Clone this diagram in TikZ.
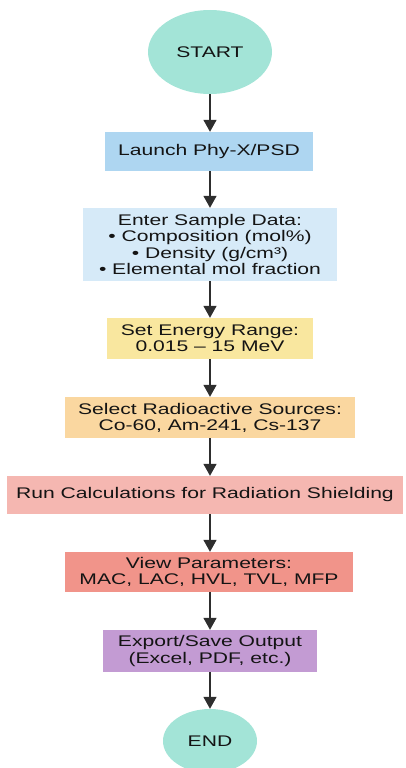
\documentclass[tikz,border=0pt]{standalone}
\usepackage{fontspec}
\setmainfont[FakeStretch=1.37]{Liberation Sans}
\usetikzlibrary{shapes.geometric,arrows.meta}
\definecolor{cterm}{HTML}{A3E4D7}
\definecolor{claunch}{HTML}{AED6F1}
\definecolor{center}{HTML}{D6EAF8}
\definecolor{cenergy}{HTML}{F9E79F}
\definecolor{cselect}{HTML}{FAD7A0}
\definecolor{crun}{HTML}{F5B7B1}
\definecolor{cview}{HTML}{F1948A}
\definecolor{cexport}{HTML}{C39BD3}
\definecolor{ctext}{HTML}{141414}
\definecolor{carrow}{HTML}{2E2E2E}
\begin{document}
\begin{tikzpicture}[x=1pt,y=-1pt,
  every node/.style={font=\fontsize{15.4}{16.2}\selectfont, text=ctext, align=center, inner sep=0pt},
  terminal/.style={ellipse, fill=cterm},
  procbox/.style={rectangle, fill=#1},
  arr/.style={draw=carrow, line width=1.6pt, -{Triangle[length=12pt,width=13pt]}}]
\useasboundingbox (0,0) rectangle (405,768);
\clip (0,0) rectangle (405,768);
\node[terminal, minimum width=124pt, minimum height=84pt] (start) at (210,52) {START};
\node[procbox=claunch, minimum width=208pt, minimum height=39pt] (launch) at (209,151.5) {Launch Phy-X/PSD};
\node[procbox=center, minimum width=254pt, minimum height=73pt] (enter) at (210,244.5) {Enter Sample Data:\\ • Composition (mol\%)\\ • Density (g/cm³)\\ • Elemental mol fraction};
\node[procbox=cenergy, minimum width=206pt, minimum height=41pt] (energy) at (210,338.5) {Set Energy Range:\\ 0.015 – 15 MeV};
\node[procbox=cselect, minimum width=290pt, minimum height=41pt] (select) at (210,417.5) {Select Radioactive Sources:\\ Co-60, Am-241, Cs-137};
\node[procbox=crun, minimum width=396pt, minimum height=38pt] (run) at (205,495) {Run Calculations for Radiation Shielding};
\node[procbox=cview, minimum width=288pt, minimum height=40pt] (view) at (209,572) {View Parameters:\\ MAC, LAC, HVL, TVL, MFP};
\node[procbox=cexport, minimum width=214pt, minimum height=42pt] (export) at (210,651) {Export/Save Output\\ (Excel, PDF, etc.)};
\node[terminal, minimum width=94pt, minimum height=64pt] (end) at (210,741) {END};
\draw[arr] (start.south) -- (start.south |- launch.north);
\draw[arr] (start.south |- launch.south) -- (start.south |- enter.north);
\draw[arr] (start.south |- enter.south) -- (start.south |- energy.north);
\draw[arr] (start.south |- energy.south) -- (start.south |- select.north);
\draw[arr] (start.south |- select.south) -- (start.south |- run.north);
\draw[arr] (start.south |- run.south) -- (start.south |- view.north);
\draw[arr] (start.south |- view.south) -- (start.south |- export.north);
\draw[arr] (start.south |- export.south) -- (end.north);
\end{tikzpicture}
\end{document}
